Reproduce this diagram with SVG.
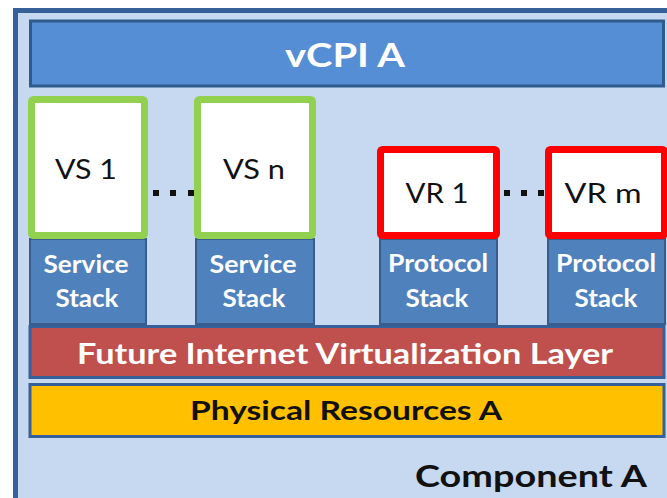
<svg xmlns="http://www.w3.org/2000/svg" width="667" height="498" viewBox="0 0 667 498">
<style>
text{font-family:Lato,"Liberation Sans",Arial,sans-serif;text-anchor:middle}
.w{fill:#ffffff;font-weight:bold}
.k{fill:#111111}
.vs{fill:none;stroke:#92d050;stroke-width:7}
.vr{fill:none;stroke:#ff0000;stroke-width:7}
.box{fill:#ffffff}
.stk{fill:#4f81bd;stroke:#385d8a;stroke-width:2}
.dot{fill:#111111}
</style>
<rect x="0" y="0" width="667" height="498" fill="#ffffff"/>
<g id="frame">
<rect x="15.5" y="10.5" width="700" height="600" fill="#c6d9f1" stroke="#35609a" stroke-width="5"/>
<text class="k" x="531" y="487" font-size="30" font-weight="bold" textLength="232" lengthAdjust="spacingAndGlyphs">Component A</text>
</g>
<g id="vcpi">
<rect x="30.5" y="21" width="633" height="65" fill="#558ed5" stroke="#2f5a8c" stroke-width="3"/>
<text class="w" x="345" y="67" font-size="33" textLength="120" lengthAdjust="spacingAndGlyphs">vCPI A</text>
</g>
<g id="vs1">
<rect class="stk" x="30" y="239" width="116" height="85"/>
<text class="w" x="86" y="273" font-size="24" textLength="85" lengthAdjust="spacingAndGlyphs">Service</text>
<text class="w" x="87" y="307" font-size="24" textLength="63" lengthAdjust="spacingAndGlyphs">Stack</text>
<rect class="box" x="31.5" y="99.5" width="113" height="136"/>
<rect class="vs" x="31.5" y="99.5" width="113" height="136" rx="2"/>
<text class="k" x="86" y="179" font-size="26" textLength="62" lengthAdjust="spacingAndGlyphs">VS 1</text>
</g>
<g id="vsn">
<rect class="stk" x="196" y="239" width="118" height="85"/>
<text class="w" x="253" y="273" font-size="24" textLength="87" lengthAdjust="spacingAndGlyphs">Service</text>
<text class="w" x="254" y="307" font-size="24" textLength="63" lengthAdjust="spacingAndGlyphs">Stack</text>
<rect class="box" x="197.5" y="99.5" width="115" height="136"/>
<rect class="vs" x="197.5" y="99.5" width="115" height="136" rx="2"/>
<text class="k" x="254" y="179" font-size="26" textLength="62" lengthAdjust="spacingAndGlyphs">VS n</text>
</g>
<g id="vr1">
<rect class="stk" x="380" y="239" width="117" height="85"/>
<text class="w" x="438" y="272" font-size="24" textLength="100" lengthAdjust="spacingAndGlyphs">Protocol</text>
<text class="w" x="437" y="307" font-size="24" textLength="63" lengthAdjust="spacingAndGlyphs">Stack</text>
<rect class="box" x="380.5" y="149.5" width="116" height="86"/>
<rect class="vr" x="380.5" y="149.5" width="116" height="86" rx="2"/>
<text class="k" x="437" y="203" font-size="26" textLength="63" lengthAdjust="spacingAndGlyphs">VR 1</text>
</g>
<g id="vrm">
<rect class="stk" x="548" y="239" width="117" height="85"/>
<text class="w" x="606" y="272" font-size="24" textLength="100" lengthAdjust="spacingAndGlyphs">Protocol</text>
<text class="w" x="606" y="307" font-size="24" textLength="63" lengthAdjust="spacingAndGlyphs">Stack</text>
<rect class="box" x="548.5" y="149.5" width="116" height="86"/>
<rect class="vr" x="548.5" y="149.5" width="116" height="86" rx="2"/>
<text class="k" x="603" y="203" font-size="26" textLength="77" lengthAdjust="spacingAndGlyphs">VR m</text>
</g>
<g id="connectors">
<rect class="dot" x="153" y="190" width="6" height="6"/>
<rect class="dot" x="170" y="190" width="6" height="6"/>
<rect class="dot" x="188" y="190" width="6" height="6"/>
<rect class="dot" x="504" y="190" width="6" height="6"/>
<rect class="dot" x="521" y="190" width="6" height="6"/>
<rect class="dot" x="538" y="190" width="6" height="6"/>
</g>
<g id="fivl">
<rect x="30" y="326.5" width="634" height="51" fill="#c0504d" stroke="#35609a" stroke-width="3"/>
<text class="w" x="345" y="364" font-size="28" textLength="536" lengthAdjust="spacingAndGlyphs">Future Internet Virtualization  Layer</text>
</g>
<g id="phys">
<rect x="30" y="384.5" width="634" height="52" fill="#ffc000" stroke="#35609a" stroke-width="3"/>
<text class="k" x="346" y="420" font-size="27" font-weight="bold" textLength="312" lengthAdjust="spacingAndGlyphs">Physical Resources A</text>
</g>
</svg>
